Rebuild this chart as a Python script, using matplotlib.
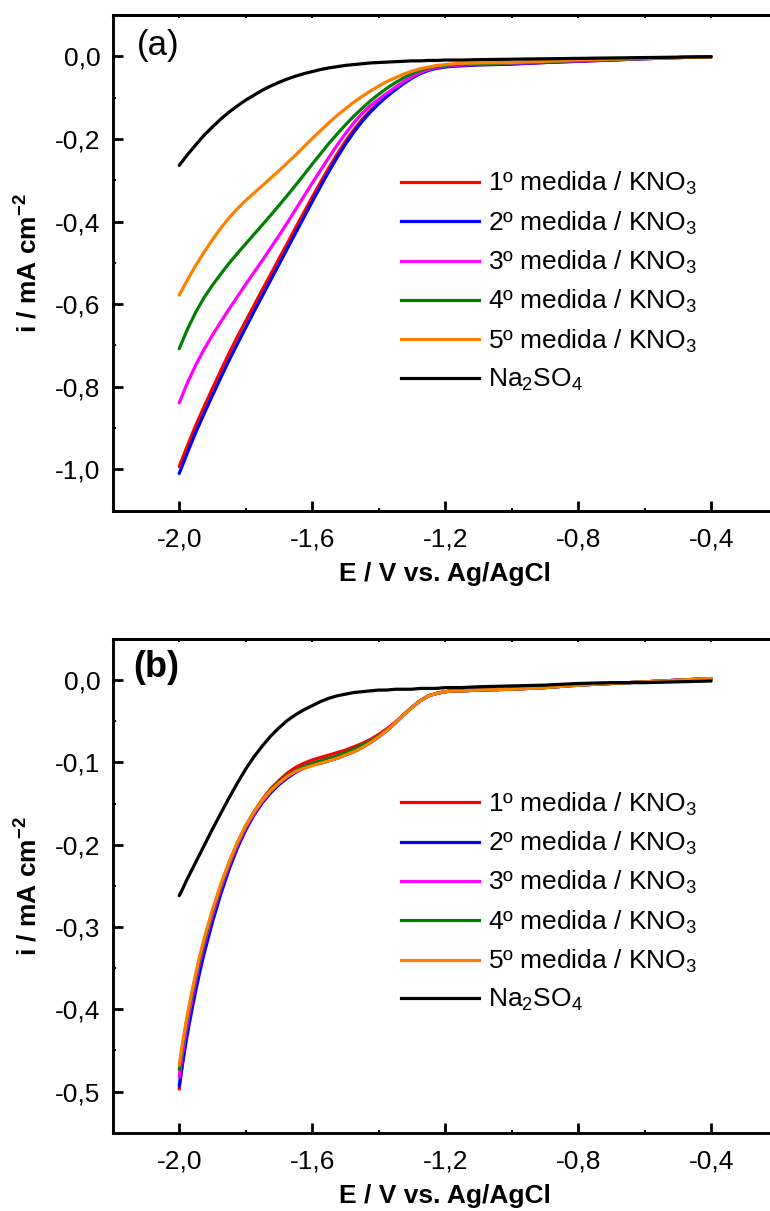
import numpy as np
import matplotlib
matplotlib.use("Agg")
import matplotlib.pyplot as plt
from matplotlib.ticker import MultipleLocator, FuncFormatter, NullFormatter
from matplotlib.lines import Line2D

plt.rcParams["font.family"] = ["Liberation Sans", "DejaVu Sans"]
plt.rcParams["mathtext.fontset"] = "custom"
plt.rcParams["mathtext.rm"] = "Liberation Sans"
plt.rcParams["mathtext.it"] = "Liberation Sans:italic"
plt.rcParams["mathtext.bf"] = "Liberation Sans:bold"

# ---- data: panel (a) ----
E_a = [-2.000, -1.975, -1.950, -1.925, -1.900, -1.875, -1.850, -1.825, -1.800, -1.775,
       -1.750, -1.725, -1.700, -1.675, -1.650, -1.625, -1.600, -1.575, -1.550, -1.525,
       -1.500, -1.475, -1.450, -1.425, -1.400, -1.375, -1.350, -1.325, -1.300, -1.275,
       -1.250, -1.225, -1.200, -1.175, -1.150,
       -1.100, -1.000, -0.900, -0.800, -0.700, -0.600, -0.500, -0.400]
a_kno3_1 = [-0.993, -0.942, -0.893, -0.848, -0.804, -0.761, -0.719, -0.679, -0.641, -0.603,
            -0.565, -0.528, -0.490, -0.453, -0.415, -0.378, -0.341, -0.305, -0.270, -0.237,
            -0.206, -0.178, -0.153, -0.131, -0.112, -0.095, -0.079, -0.064, -0.051, -0.041,
            -0.033, -0.028, -0.025, -0.023, -0.022,
            -0.020, -0.018, -0.015, -0.012, -0.009, -0.006, -0.003, -0.001]
a_kno3_2 = [-1.010, -0.959, -0.910, -0.865, -0.821, -0.778, -0.736, -0.696, -0.657, -0.618,
            -0.580, -0.542, -0.504, -0.466, -0.428, -0.390, -0.352, -0.315, -0.279, -0.245,
            -0.213, -0.184, -0.158, -0.135, -0.115, -0.097, -0.081, -0.066, -0.053, -0.042,
            -0.034, -0.029, -0.026, -0.024, -0.023,
            -0.021, -0.019, -0.015, -0.012, -0.009, -0.006, -0.003, -0.001]
a_kno3_3 = [-0.839, -0.790, -0.747, -0.709, -0.675, -0.643, -0.612, -0.582, -0.552, -0.523,
            -0.494, -0.464, -0.434, -0.403, -0.371, -0.339, -0.307, -0.276, -0.245, -0.215,
            -0.187, -0.161, -0.138, -0.119, -0.104, -0.089, -0.075, -0.061, -0.049, -0.039,
            -0.032, -0.027, -0.024, -0.022, -0.021,
            -0.019, -0.017, -0.014, -0.011, -0.008, -0.005, -0.003, -0.001]
a_kno3_4 = [-0.708, -0.660, -0.619, -0.584, -0.554, -0.527, -0.501, -0.477, -0.454, -0.431,
            -0.408, -0.385, -0.361, -0.337, -0.312, -0.287, -0.261, -0.236, -0.211, -0.188,
            -0.166, -0.145, -0.126, -0.108, -0.092, -0.077, -0.064, -0.052, -0.042, -0.034,
            -0.028, -0.024, -0.022, -0.020, -0.019,
            -0.018, -0.016, -0.013, -0.010, -0.008, -0.005, -0.003, -0.001]
a_kno3_5 = [-0.578, -0.541, -0.506, -0.474, -0.444, -0.416, -0.391, -0.369, -0.349, -0.331,
            -0.313, -0.295, -0.277, -0.258, -0.239, -0.219, -0.199, -0.180, -0.161, -0.143,
            -0.127, -0.111, -0.097, -0.084, -0.072, -0.061, -0.052, -0.043, -0.036, -0.030,
            -0.026, -0.022, -0.020, -0.018, -0.017,
            -0.016, -0.015, -0.012, -0.009, -0.007, -0.005, -0.003, -0.002]
a_na2so4 = [-0.264, -0.238, -0.214, -0.191, -0.171, -0.152, -0.135, -0.120, -0.106, -0.094,
            -0.082, -0.072, -0.063, -0.055, -0.048, -0.042, -0.037, -0.032, -0.028, -0.025,
            -0.022, -0.020, -0.018, -0.016, -0.015, -0.014, -0.013, -0.012, -0.011, -0.011,
            -0.010, -0.010, -0.009, -0.009, -0.009,
            -0.008, -0.007, -0.006, -0.005, -0.004, -0.003, -0.002, -0.001]

# ---- data: panel (b) ----
E_b = [-2.000, -1.990, -1.980, -1.970, -1.960, -1.950, -1.940,
       -1.925, -1.900, -1.875, -1.850, -1.825, -1.800, -1.775, -1.750, -1.725, -1.700,
       -1.675, -1.650, -1.625, -1.600, -1.575, -1.550, -1.525, -1.500, -1.475, -1.450,
       -1.425, -1.400, -1.375, -1.350, -1.325, -1.300, -1.275, -1.250, -1.225, -1.200,
       -1.175, -1.150,
       -1.100, -1.000, -0.900, -0.800, -0.700, -0.600, -0.500, -0.400]
b_kno3_1 = [-0.497, -0.465, -0.437, -0.412, -0.390, -0.369, -0.350,
            -0.324, -0.286, -0.253, -0.224, -0.199, -0.178, -0.160, -0.145, -0.132, -0.122,
            -0.113, -0.106, -0.101, -0.097, -0.094, -0.091, -0.088, -0.085, -0.081, -0.077,
            -0.072, -0.066, -0.059, -0.051, -0.042, -0.033, -0.025, -0.019, -0.016, -0.014,
            -0.013, -0.013,
            -0.012, -0.011, -0.009, -0.006, -0.004, -0.002, 0.000, 0.002]
b_kno3_2 = [-0.493, -0.466, -0.441, -0.418, -0.397, -0.377, -0.358,
            -0.332, -0.294, -0.260, -0.230, -0.204, -0.182, -0.164, -0.149, -0.137, -0.127,
            -0.119, -0.112, -0.107, -0.103, -0.101, -0.098, -0.095, -0.091, -0.087, -0.082,
            -0.076, -0.069, -0.061, -0.052, -0.042, -0.033, -0.025, -0.019, -0.016, -0.014,
            -0.013, -0.013,
            -0.012, -0.011, -0.009, -0.006, -0.004, -0.002, 0.000, 0.002]
b_kno3_3 = [-0.482, -0.453, -0.428, -0.405, -0.384, -0.364, -0.346,
            -0.321, -0.285, -0.253, -0.225, -0.200, -0.179, -0.162, -0.147, -0.135, -0.125,
            -0.117, -0.110, -0.105, -0.101, -0.098, -0.095, -0.092, -0.088, -0.084, -0.079,
            -0.074, -0.068, -0.061, -0.052, -0.042, -0.033, -0.025, -0.019, -0.016, -0.014,
            -0.013, -0.013,
            -0.012, -0.011, -0.009, -0.006, -0.004, -0.002, 0.000, 0.002]
b_kno3_4 = [-0.473, -0.445, -0.420, -0.398, -0.378, -0.359, -0.341,
            -0.317, -0.281, -0.250, -0.222, -0.198, -0.177, -0.160, -0.146, -0.134, -0.124,
            -0.116, -0.110, -0.105, -0.101, -0.098, -0.095, -0.092, -0.088, -0.084, -0.079,
            -0.074, -0.068, -0.061, -0.052, -0.042, -0.033, -0.025, -0.019, -0.016, -0.014,
            -0.013, -0.013,
            -0.012, -0.011, -0.009, -0.006, -0.004, -0.002, 0.000, 0.002]
b_kno3_5 = [-0.468, -0.441, -0.417, -0.395, -0.375, -0.356, -0.338,
            -0.314, -0.279, -0.248, -0.221, -0.197, -0.177, -0.160, -0.146, -0.134, -0.125,
            -0.117, -0.111, -0.107, -0.104, -0.101, -0.098, -0.095, -0.091, -0.087, -0.082,
            -0.076, -0.069, -0.061, -0.052, -0.042, -0.033, -0.025, -0.019, -0.016, -0.014,
            -0.013, -0.013,
            -0.012, -0.011, -0.009, -0.006, -0.004, -0.002, 0.000, 0.002]
b_na2so4 = [-0.262, -0.254, -0.245, -0.237, -0.229, -0.221, -0.213,
            -0.201, -0.181, -0.162, -0.143, -0.125, -0.108, -0.093, -0.080, -0.068, -0.058,
            -0.049, -0.042, -0.036, -0.031, -0.026, -0.022, -0.019, -0.017, -0.015, -0.014,
            -0.013, -0.012, -0.012, -0.011, -0.011, -0.011, -0.010, -0.010, -0.010, -0.009,
            -0.009, -0.009,
            -0.008, -0.007, -0.006, -0.004, -0.003, -0.003, -0.002, -0.001]

labels = [u"1\u00ba medida / KNO$_3$", u"2\u00ba medida / KNO$_3$",
          u"3\u00ba medida / KNO$_3$", u"4\u00ba medida / KNO$_3$",
          u"5\u00ba medida / KNO$_3$", "Na$_2$SO$_4$"]
colors = ["#ff0000", "#0000ff", "#ff00ff", "#008000", "#ff8000", "#000000"]

FS = 19
LW = 2.3


def comma_fmt(v, pos):
    return f"{v:.1f}".replace(".", ",")


def style_axes(ax, ylim, ymajor, yminor):
    ax.set_xlim(-2.2, -0.2)
    ax.set_ylim(*ylim)
    for s in ax.spines.values():
        s.set_linewidth(2.1)
    ax.xaxis.set_major_locator(MultipleLocator(0.4))
    ax.xaxis.set_minor_locator(MultipleLocator(0.2))
    ax.yaxis.set_major_locator(MultipleLocator(ymajor))
    ax.yaxis.set_minor_locator(MultipleLocator(yminor))
    ax.xaxis.set_major_formatter(FuncFormatter(comma_fmt))
    ax.yaxis.set_major_formatter(FuncFormatter(comma_fmt))
    ax.tick_params(which="major", direction="in", length=7, width=2,
                   labelsize=FS, top=False, right=False)
    ax.tick_params(axis="x", which="major", pad=12)
    ax.tick_params(axis="y", which="major", pad=9)
    ax.tick_params(which="minor", direction="in", length=2.5, width=1.5,
                   top=False, right=False)
    # small ticks on the top edge
    sec = ax.secondary_xaxis("top")
    sec.xaxis.set_major_locator(MultipleLocator(0.2))
    sec.xaxis.set_major_formatter(NullFormatter())
    sec.tick_params(direction="in", length=2.5, width=1.5)
    sec.spines["top"].set_linewidth(2.1)
    ax.set_xlabel("E / V vs. Ag/AgCl", fontsize=FS, fontweight="bold")
    ax.set_ylabel("i / mA cm$^{\\mathbf{-2}}$", fontsize=FS, fontweight="bold")
    ax.xaxis.set_label_coords(0.5, -0.104)
    ax.yaxis.set_label_coords(-0.106, 0.5)


def draw_panel(ax, E, series, legend_top):
    for ys, c in zip(series, colors):
        ax.plot(E, ys, color=c, linewidth=LW, solid_capstyle="round",
                solid_joinstyle="round")
    handles = [Line2D([], [], color=c, linewidth=LW) for c in colors]
    ax.legend(handles, labels, loc="upper left", bbox_to_anchor=(0.4336, legend_top),
              frameon=False, fontsize=FS, borderpad=0, borderaxespad=0,
              handlelength=2.97, handletextpad=0.33, labelspacing=0.46)


fig = plt.figure(figsize=(7.7, 12.11), dpi=100)

ax1 = fig.add_axes([0.1464, 0.5783, 0.8635, 0.4093])
draw_panel(ax1, E_a, [a_kno3_1, a_kno3_2, a_kno3_3, a_kno3_4, a_kno3_5, a_na2so4], 0.687)
style_axes(ax1, (-1.1, 0.1), 0.2, 0.1)
ax1.text(0.068, 0.9375, "(a)", transform=ax1.transAxes, fontsize=25,
         ha="center", va="center")

ax2 = fig.add_axes([0.1464, 0.0647, 0.8635, 0.4076])
draw_panel(ax2, E_b, [b_kno3_1, b_kno3_2, b_kno3_3, b_kno3_4, b_kno3_5, b_na2so4], 0.693)
style_axes(ax2, (-0.55, 0.05), 0.1, 0.05)
ax2.text(0.065, 0.942, "(b)", transform=ax2.transAxes, fontsize=26,
         fontweight="bold", ha="center", va="center")

fig.savefig("out.png", dpi=100)
